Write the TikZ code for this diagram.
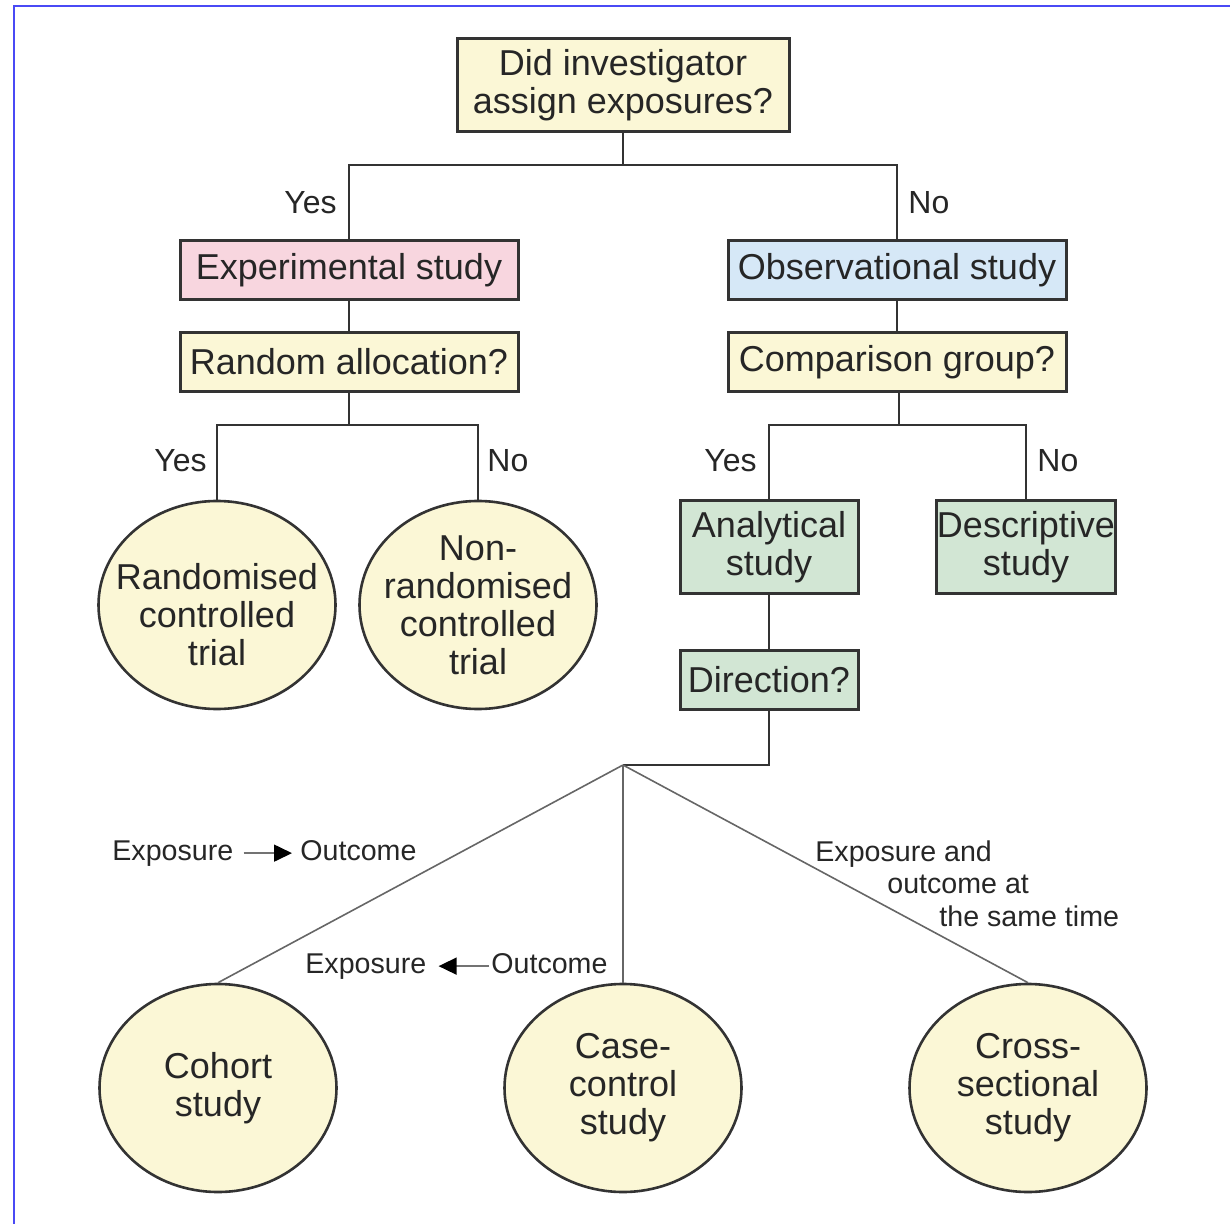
\documentclass[tikz,border=0pt]{standalone}
\usepackage{fontspec}
\setmainfont{Liberation Sans}
\usepackage{xcolor}
\usepackage{tikz}
\usetikzlibrary{shapes.geometric, arrows.meta, positioning}

\definecolor{cream}{HTML}{FBF7D6}
\definecolor{pinkbox}{HTML}{F8D6DF}
\definecolor{bluebox}{HTML}{D6E8F7}
\definecolor{greenbox}{HTML}{D2E6D4}
\definecolor{edge}{HTML}{333333}
\definecolor{frameblue}{HTML}{4A4AF5}

\begin{document}
\begin{tikzpicture}[x=0.5pt,y=-0.5pt]
\tikzstyle{box}=[draw=edge,line width=1.5pt,align=center,inner sep=0pt,text=black!85,font=\fontsize{18}{19}\selectfont]
\tikzstyle{widebox}=[box,minimum width=169pt,minimum height=29.5pt]
\tikzstyle{smallbox}=[box,fill=greenbox,minimum width=89pt]
\tikzstyle{study}=[ellipse,draw=edge,line width=1.3pt,fill=cream,minimum width=118.5pt,minimum height=104pt,inner sep=0pt]
\tikzstyle{circtext}=[align=center,text=black!85,font=\fontsize{18}{19}\selectfont]
\tikzstyle{answer}=[inner sep=0pt,text=black!85,font=\fontsize{16}{17}\selectfont]
\tikzstyle{note}=[inner sep=0pt,text=black!85,font=\fontsize{14.3}{16.25}\selectfont]
\tikzstyle{link}=[draw=edge,line width=1pt]
\tikzstyle{thin}=[draw=black!60,line width=0.8pt]
\tikzstyle{dir}=[draw=black!55,line width=0.8pt,-{Triangle[length=9pt,width=8.5pt,black]}]

\useasboundingbox (0,0) rectangle (1230,1224);
\draw[frameblue,line width=1pt] (14,1240) -- (14,6) -- (1240,6);

% questions and study types
\node[box,fill=cream,minimum width=166pt,minimum height=46.5pt] (assign) at (623,85) {Did investigator\\assign exposures?};
\node[widebox,fill=pinkbox] (exp) at (349,270) {Experimental study};
\node[widebox,fill=bluebox] (obs) at (897,270) {Observational study};
\node[widebox,fill=cream] (random) at (349,362) {Random allocation?};
\node[widebox,fill=cream] (compare) at (897,362) {Comparison group?};
\node[smallbox,minimum height=46.5pt] (analytic) at (769,547) {Analytical\\study};
\node[smallbox,minimum height=46.5pt] (descr) at (1026,547) {Descriptive\\study};
\node[smallbox,minimum height=29.5pt] (direction) at (769,680) {Direction?};

\node[study,label={[circtext,yshift=-5pt]center:Randomised\\controlled\\trial}] (rct) at (217,605) {};
\node[study,label={[circtext]center:Non-\\randomised\\controlled\\trial}] (nrct) at (478,605) {};
\node[study,label={[circtext]center:Cohort\\study}] (cohort) at (218,1088) {};
\node[study,label={[circtext]center:Case-\\control\\study}] (casectl) at (623,1088) {};
\node[study,label={[circtext]center:Cross-\\sectional\\study}] (cross) at (1028,1088) {};

\coordinate (j1) at (623,165);
\coordinate (j2) at (349,425);
\coordinate (j3) at (899,425);
\coordinate (j4) at (623,765);

\draw[link] (assign) -- (j1);
\draw[link] (exp.north) |- (j1) -| (obs.north);
\draw[link] (exp) -- (random);
\draw[link] (obs) -- (compare);
\draw[link] (random) -- (j2);
\draw[link] (rct.north) |- (j2) -| (nrct.north);
\draw[link] (compare.south -| j3) -- (j3);
\draw[link] (analytic.north) |- (j3) -| (descr.north);
\draw[link] (analytic) -- (direction);
\draw[link] (direction.south) |- (j4);
\draw[thin] (j4) -- (cohort.north);
\draw[thin] (j4) -- (casectl.north);
\draw[thin] (j4) -- (cross.north);

\node[answer,anchor=east] (yes1) at (337,203) {Yes};
\node[answer,anchor=west] (no1) at (908,203) {No};
\node[answer,anchor=east] (yes2) at (207,461) {Yes};
\node[answer,anchor=west] (no2) at (487,461) {No};
\node[answer,anchor=east] (yes3) at (757,461) {Yes};
\node[answer,anchor=west] (no3) at (1037,461) {No};

% direction notes
\node[note,anchor=base west] (expA) at (112,860) {Exposure};
\node[note,anchor=base west] (outA) at (300,860) {Outcome};
\draw[dir] ([xshift=5pt]expA.east) -- ([xshift=-4pt]outA.west |- expA.east);
\node[note,anchor=base west] (expB) at (305,973) {Exposure};
\node[note,anchor=base west] (outB) at (491,973) {Outcome};
\draw[dir] ([xshift=-1pt]outB.west |- expB.east) -- ([xshift=6pt]expB.east);
\node[note,anchor=north west,align=left] (same) at (815,840) {Exposure and\\\hspace*{36pt}outcome at\\\hspace*{62pt}the same time};

\end{tikzpicture}
\end{document}
